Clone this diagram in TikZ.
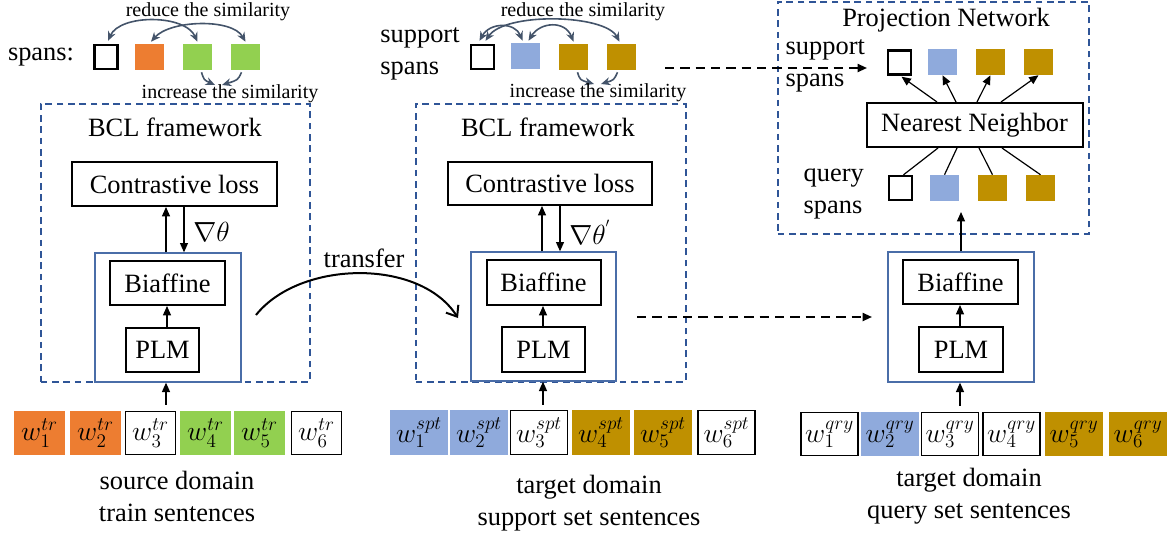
\documentclass[tikz,border=0pt]{standalone}
\usepackage{fontspec}
\setmainfont{Liberation Serif}
\usetikzlibrary{arrows.meta,calc}
\definecolor{orng}{HTML}{ED7D31}
\definecolor{grn}{HTML}{92D050}
\definecolor{blu}{HTML}{8FAADC}
\definecolor{gld}{HTML}{BF9000}
\definecolor{dblue}{HTML}{2F5597}
\definecolor{iblue}{HTML}{4A6DA8}
\definecolor{slate}{HTML}{44546A}
\begin{document}
\begin{tikzpicture}[x=0.75pt,y=-0.75pt,
  sz/.style 2 args={minimum width=#1*0.75pt,minimum height=#2*0.75pt},
  big/.style={font=\fontsize{19.8}{24}\selectfont},
  small/.style={font=\fontsize{15}{17}\selectfont},
  blk/.style={draw=black,line width=1.5pt,inner sep=0pt,big},
  frame/.style={draw=dblue,line width=1.2pt,dash pattern=on 5pt off 3.5pt},
  inbox/.style={draw=iblue,line width=1pt,inner sep=0pt},
  wsq/.style={draw=black,line width=1.8pt,fill=white,inner sep=0pt,sz={23}{24}},
  csq/.style={fill=#1,inner sep=0pt,sz={29}{26}},
  tok/.style={inner sep=0pt,font=\fontsize{21}{23}\selectfont},
  tokw/.style={tok,draw=black,line width=1.2pt},
  arr/.style={-{Triangle[length=7pt,width=6pt]},line width=0.9pt},
  darr/.style={-{Triangle[length=7pt,width=6pt]},line width=1.4pt,dash pattern=on 7pt off 4.5pt},
  sim/.style={{Stealth[length=7pt,width=6pt]}-{Stealth[length=7pt,width=6pt]},draw=slate,line width=1.2pt},
  simone/.style={-{Stealth[length=7pt,width=6pt]},draw=slate,line width=1.2pt},
]
\useasboundingbox (0,0) rectangle (1172,536);

% ---------- dashed frames ----------
\node[frame,sz={269}{278},anchor=north west] (bcl1) at (40,103) {};
\node[frame,sz={270}{278},anchor=north west] (bcl2) at (415,103) {};
\node[frame,sz={311}{232},anchor=north west] (proj) at (777,1) {};

\node[big] (bcl1t) at (175,127) {BCL framework};
\node[big] (bcl2t) at (548,127) {BCL framework};
\node[big] (projt) at (946,20) {Projection Network};

% ---------- block 1 ----------
\node[blk,sz={205}{44}] (cl1) at (174.5,184) {Contrastive loss};
\node[inbox,sz={146}{129}] (ib1) at (168,317.5) {};
\node[blk,sz={115}{44}] (bi1) at (167.5,283) {Biaffine};
\node[blk,sz={73}{44}] (plm1) at (162.5,350) {PLM};
\draw[arr] (166,0 |- ib1.north) -- (166,0 |- cl1.south);
\draw[arr] (184,0 |- cl1.south) -- (184,0 |- ib1.north);
\node[big,anchor=west,inner sep=0pt] (g1) at (193,232) {$\nabla\theta$};
\draw[arr] (167,0 |- plm1.north) -- (167,0 |- bi1.south);

% ---------- block 2 ----------
\node[blk,sz={204}{43}] (cl2) at (550,183.5) {Contrastive loss};
\node[inbox,sz={145}{129}] (ib2) at (543.5,316.5) {};
\node[blk,sz={114}{45}] (bi2) at (543.5,282.5) {Biaffine};
\node[blk,sz={83}{45}] (plm2) at (543.5,349.5) {PLM};
\draw[arr] (542,0 |- ib2.north) -- (542,0 |- cl2.south);
\draw[arr] (560,0 |- cl2.south) -- (560,0 |- ib2.north);
\node[big,anchor=west,inner sep=0pt] (g2) at (569,232) {$\nabla\theta^{'}$};
\draw[arr] (543,0 |- plm2.north) -- (543,0 |- bi2.south);

% ---------- block 3 ----------
\node[inbox,sz={146}{130}] (ib3) at (961,317) {};
\node[blk,sz={115}{44}] (bi3) at (960.5,282) {Biaffine};
\node[blk,sz={84}{45}] (plm3) at (961,349.5) {PLM};
\draw[arr] (960,0 |- plm3.north) -- (960,0 |- bi3.south);
\draw[arr] (961,0 |- ib3.north) -- (961,212);

% ---------- transfer & dashed links ----------
\coordinate (trs) at (256,315);
\coordinate (tre) at (458,318);
\draw[line width=1.5pt,-{Straight Barb[length=7pt,width=11pt]}] (trs) .. controls (300,260) and (420,258) .. (tre);
\node[big] (trl) at (364,258) {transfer};
\coordinate (d1s) at (637,317);
\coordinate (d1e) at (872,317);
\draw[darr] (d1s) -- (d1e);
\coordinate (d2s) at (665,68);
\coordinate (d2e) at (867,68);
\draw[darr] (d2s) -- (d2e);

% ---------- top spans, block 1 ----------
\node[big] (sp1) at (41,57) {spans:};
\node[wsq] (a1) at (106,57) {};
\node[csq=orng] (a2) at (149,57) {};
\node[csq=grn] (a3) at (197.5,57) {};
\node[csq=grn] (a4) at (245.5,57) {};
\draw[sim] (a1.north) ++(2,-3) .. controls (120,14) and (185,14) .. ($(a3.north)+(0,-2)$);
\draw[sim] (a2.north) ++(2,-2) .. controls (170,20) and (232,18) .. ($(a4.north)+(0,-2)$);
\node[small] (r1) at (208,12) {reduce the similarity};
\draw[simone] ($(a3.south)+(4,2)$) .. controls (204,80) .. (215,85);
\draw[simone] ($(a4.south)+(-4,2)$) .. controls (238,80) .. (222,85);
\node[small] (i1) at (230,94) {increase the similarity};

% ---------- top spans, block 2 ----------
\node[big,align=left] (sp2) at (420,54) {support\\spans};
\node[wsq] (b1) at (482.5,57) {};
\node[csq=blu] (b2) at (525.5,56) {};
\node[csq=gld] (b3) at (573.5,57) {};
\node[csq=gld] (b4) at (621.5,57) {};
\draw[sim] ($(b1.north)+(-3,-3)$) .. controls (490,22) and (515,22) .. ($(b2.north)+(-3,-2)$);
\draw[sim] ($(b1.north)+(3,-3)$) .. controls (505,12) and (605,14) .. ($(b4.north)+(-2,-2)$);
\draw[sim] ($(b2.north)+(3,-2)$) .. controls (540,22) and (565,20) .. ($(b3.north)+(0,-2)$);
\node[small] (r2) at (583,12) {reduce the similarity};
\draw[simone] ($(b3.south)+(4,2)$) .. controls (580,80) .. (594,84);
\draw[simone] ($(b4.south)+(-4,2)$) .. controls (614,80) .. (601,84);
\node[small] (i2) at (598,93) {increase the similarity};

% ---------- projection network ----------
\node[big,align=left,anchor=west] (sp3) at (781,66) {support\\spans};
\node[big,align=left,anchor=west] (qs) at (799,194) {query\\spans};
\node[wsq] (p1) at (899.5,62.5) {};
\node[csq=blu] (p2) at (942.5,62) {};
\node[csq=gld] (p3) at (990.5,62) {};
\node[csq=gld] (p4) at (1038.5,62) {};
\node[blk,sz={216}{44}] (nn) at (974.5,125) {Nearest Neighbor};
\node[wsq] (q1) at (900.5,188) {};
\node[csq=blu] (q2) at (944.5,188) {};
\node[csq=gld] (q3) at (992.5,188) {};
\node[csq=gld] (q4) at (1040.5,188) {};
\draw[arr] (937,0 |- nn.north) -- ($(p1.south)+(2,1)$);
\draw[arr] (956,0 |- nn.north) -- (p2.south);
\draw[arr] (977,0 |- nn.north) -- (p3.south);
\draw[arr] (1001,0 |- nn.north) -- (p4.south);
\draw[line width=0.9pt] (938,0 |- nn.south) -- ($(q1.north)+(3,0)$);
\draw[line width=0.9pt] (957,0 |- nn.south) -- (q2.north);
\draw[line width=0.9pt] (979,0 |- nn.south) -- (q3.north);
\draw[line width=0.9pt] (1002,0 |- nn.south) -- (q4.north);

% ---------- tokens 1 ----------
\node[tok,fill=orng,sz={51}{44}] (s1) at (39.5,433) {$w_1^{tr}$};
\node[tok,fill=orng,sz={51}{44}] (s2) at (95.5,433) {$w_2^{tr}$};
\node[tokw,sz={50}{43}] (s3) at (150.5,433) {$w_3^{tr}$};
\node[tok,fill=grn,sz={51}{44}] (s4) at (205.5,433) {$w_4^{tr}$};
\node[tok,fill=grn,sz={51}{44}] (s5) at (259.5,433) {$w_5^{tr}$};
\node[tokw,sz={50}{43}] (s6) at (316.5,433) {$w_6^{tr}$};
\draw[arr] (166,0 |- s3.north) ++(0,-6) -- (166,0 |- ib1.south);
\node[big,align=center] (lab1) at (177,496) {source domain\\train sentences};

% ---------- tokens 2 ----------
\node[tok,fill=blu,sz={58}{45}] (u1) at (419,432.5) {$w_1^{spt}$};
\node[tok,fill=blu,sz={58}{45}] (u2) at (479,432.5) {$w_2^{spt}$};
\node[tokw,sz={57}{44}] (u3) at (539,432.5) {$w_3^{spt}$};
\node[tok,fill=gld,sz={58}{45}] (u4) at (601,432.5) {$w_4^{spt}$};
\node[tok,fill=gld,sz={58}{45}] (u5) at (663,432.5) {$w_5^{spt}$};
\node[tokw,sz={57}{44}] (u6) at (726.5,432.5) {$w_6^{spt}$};
\draw[arr] (543,0 |- u3.north) ++(0,-5) -- (543,0 |- ib2.south);
\node[big,align=center] (lab2) at (589,503) {target domain\\support set sentences};

% ---------- tokens 3 ----------
\node[tokw,sz={57}{43}] (v1) at (829.5,434) {$w_1^{qry}$};
\node[tok,fill=blu,sz={58}{44}] (v2) at (890,434) {$w_2^{qry}$};
\node[tokw,sz={57}{43}] (v3) at (950,434) {$w_3^{qry}$};
\node[tokw,sz={57}{43}] (v4) at (1011.5,434) {$w_4^{qry}$};
\node[tok,fill=gld,sz={58}{44}] (v5) at (1074,434) {$w_5^{qry}$};
\node[tok,fill=gld,sz={58}{44}] (v6) at (1138,434) {$w_6^{qry}$};
\draw[arr] (960,0 |- v3.north) ++(0,-6) -- (960,0 |- ib3.south);
\node[big,align=center] (lab3) at (969,496) {target domain\\query set sentences};
\end{tikzpicture}
\end{document}
